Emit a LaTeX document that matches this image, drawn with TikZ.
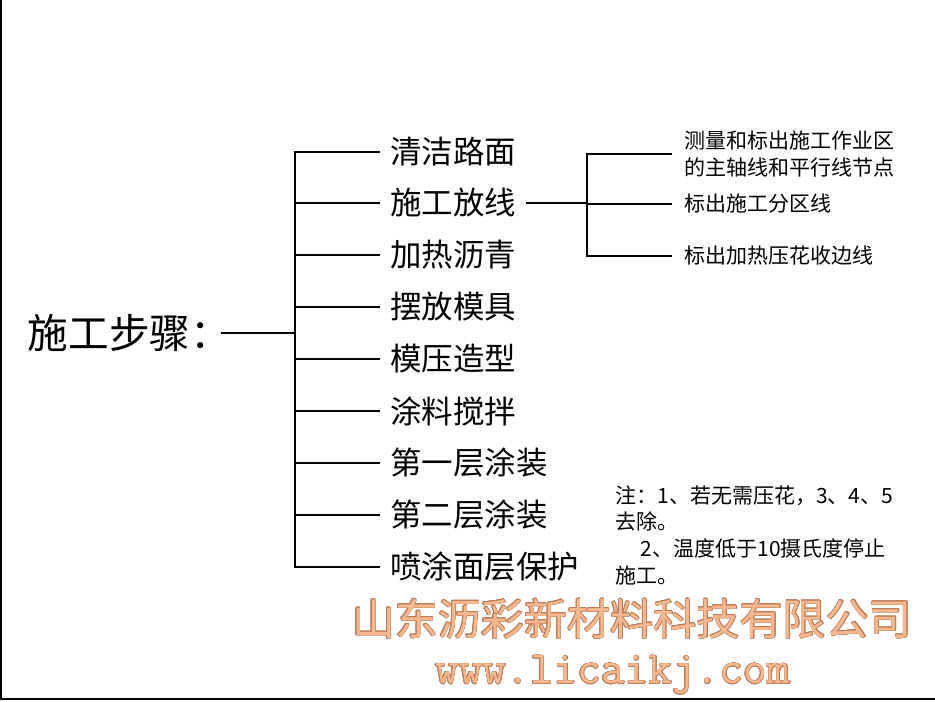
\documentclass[tikz,border=0pt]{standalone}
\usepackage{fontspec}
\setmainfont{Noto Sans CJK SC}
\usepackage{xcolor}
\usepackage{contour}
\usepackage{tikz}
\usetikzlibrary{positioning}
\definecolor{brandfill}{HTML}{F7B88F}
\definecolor{brandedge}{HTML}{B97A58}
\contourlength{0.4pt}

\begin{document}
\begin{tikzpicture}[x=0.75pt,y=-0.75pt,line width=1pt,
  rootlabel/.style={font=\fontsize{30.5}{36}\selectfont,inner sep=0pt,anchor=west},
  stepnode/.style={font=\fontsize{23.6}{28}\selectfont,inner xsep=7.2pt,inner ysep=0pt,anchor=west},
  subnode/.style={font=\fontsize{15.75}{20.2}\selectfont,inner xsep=9pt,inner ysep=0pt,
    anchor=west,align=left},
  notenode/.style={font=\fontsize{15.75}{19.9}\selectfont,inner sep=0pt,
    anchor=north west,align=left},
  brand/.style={text=brandfill,inner sep=0pt}]
\useasboundingbox (0,0) rectangle (935,701);

% ---- page frame: left and bottom edge only ----------------------------
\draw[line width=1.1pt] (1,0) -- (1,699) -- (935,699);

% ---- root and the nine steps ------------------------------------------
\node[rootlabel] (root) at (27,333) {施工步骤：};
\node[stepnode] (s1) at (380,152) {清洁路面};
\node[stepnode] (s2) at (380,203) {施工放线};
\node[stepnode] (s3) at (380,255) {加热沥青};
\node[stepnode] (s4) at (380,307) {摆放模具};
\node[stepnode] (s5) at (380,359) {模压造型};
\node[stepnode] (s6) at (380,411) {涂料搅拌};
\node[stepnode] (s7) at (380,463) {第一层涂装};
\node[stepnode] (s8) at (380,515) {第二层涂装};
\node[stepnode] (s9) at (380,567) {喷涂面层保护};

% ---- what the setting-out step covers ---------------------------------
\node[subnode] (p1) at (672,154) {测量和标出施工作业区\\的主轴线和平行线节点};
\node[subnode] (p2) at (672,204) {标出施工分区线};
\node[subnode] (p3) at (672,256) {标出加热压花收边线};

% ---- note -------------------------------------------------------------
\node[notenode] (note) at (615,485)
  {注：1、若无需压花，3、4、5\\去除。\\\hspace*{1.2em}2、温度低于10摄氏度停止\\施工。};

% ---- company and website ----------------------------------------------
\node[brand,font=\fontsize{32.3}{36}\selectfont] (company) at (632,619)
  {\contour{brandedge}{山东沥彩新材料科技有限公司}};
\node[brand,font=\fontsize{34.5}{38}\ttfamily] (site) at (613,675)
  {\contour{brandedge}{www.licaikj.com}};

% ---- the brackets -----------------------------------------------------
\coordinate (trunk) at (295,333);
\coordinate (fork) at (587,203);
\draw ([xshift=-8pt]root.east) -- (trunk);
\foreach \i in {1,...,9}
  \draw (s\i.west) -| (trunk);
\draw (s2.east) -- (fork);
\foreach \i in {1,2,3}
  \draw (p\i.west) -| (fork);
\end{tikzpicture}
\end{document}
